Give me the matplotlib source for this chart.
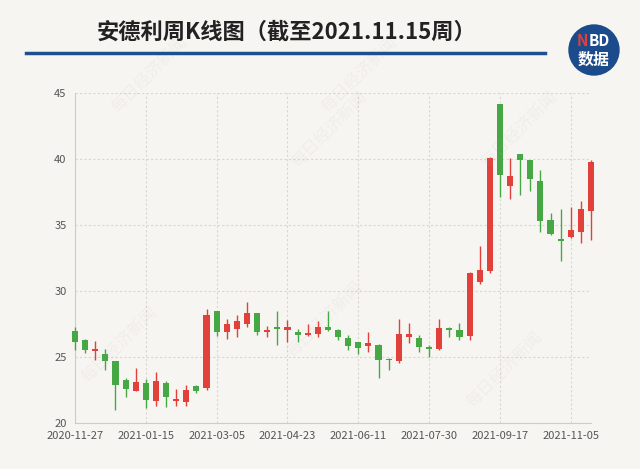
import matplotlib
matplotlib.use("Agg")
import matplotlib.pyplot as plt
from matplotlib.patches import Ellipse
import numpy as np
import pandas as pd

plt.rcParams['font.family'] = ['Noto Sans CJK SC', 'DejaVu Sans']

# weekly candles, 2020-11-27 .. week of 2021-11-15
start_date = "2020-11-27"
opens = [27.0, 26.3, 25.45, 25.2, 24.7, 23.25, 22.45, 23.05, 21.65, 23.05,
         21.7, 21.6, 22.8, 22.65, 28.5, 26.9, 27.1, 27.5, 28.3, 26.9,
         27.3, 27.05, 26.9, 26.7, 26.75, 27.3, 27.05, 26.45, 26.1, 25.8,
         25.9, 24.85, 24.7, 26.55, 26.45, 25.75, 25.6, 27.2, 27.05, 26.6,
         30.65, 31.5, 44.15, 37.95, 40.35, 39.9, 38.35, 35.4, 33.9, 34.1,
         34.5, 36.05]
closes = [26.1, 25.5, 25.6, 24.7, 22.9, 22.55, 23.1, 21.75, 23.2, 21.95,
          21.8, 22.5, 22.4, 28.2, 26.9, 27.5, 27.7, 28.3, 26.9, 27.05,
          27.15, 27.25, 26.7, 26.85, 27.3, 27.05, 26.55, 25.8, 25.7, 26.05,
          24.8, 24.75, 26.75, 26.75, 25.75, 25.6, 27.2, 27.05, 26.55, 31.4,
          31.6, 40.1, 38.8, 38.7, 39.9, 38.45, 35.3, 34.3, 33.8, 34.6,
          36.2, 39.8]
highs = [27.3, 26.4, 26.2, 25.6, 24.7, 23.4, 24.2, 23.3, 23.9, 23.2,
         22.55, 22.9, 22.9, 28.6, 28.5, 27.9, 28.2, 29.2, 28.35, 27.35,
         28.45, 27.8, 27.1, 27.5, 27.75, 28.45, 27.1, 26.65, 26.15, 26.9,
         26.0, 24.9, 27.9, 27.6, 26.65, 25.9, 27.9, 27.25, 27.6, 31.45,
         33.4, 40.15, 44.2, 40.1, 40.35, 39.95, 39.15, 35.9, 36.2, 36.4,
         36.85, 39.9]
lows = [25.5, 25.3, 24.8, 24.0, 21.0, 22.0, 22.4, 21.1, 21.3, 21.2,
        21.3, 21.3, 22.25, 22.5, 26.6, 26.35, 26.5, 27.25, 26.65, 26.5,
        25.9, 26.1, 26.15, 26.6, 26.55, 27.0, 26.3, 25.5, 25.2, 25.4,
        23.4, 24.0, 24.55, 26.05, 25.4, 25.0, 25.55, 26.5, 26.25, 26.3,
        30.5, 31.4, 37.15, 36.95, 37.3, 37.55, 34.5, 34.25, 32.3, 34.05,
        33.65, 33.9]
tick_labels = ["2020-11-27", "2021-01-15", "2021-03-05", "2021-04-23",
               "2021-06-11", "2021-07-30", "2021-09-17", "2021-11-05"]
y_ticks = [20, 25, 30, 35, 40, 45]

title = "安德利周K线图（截至2021.11.15周）"
bg = "#f7f5f2"
red = "#e2403a"
green = "#45a845"

fig = plt.figure(figsize=(6.4, 4.69), dpi=100, facecolor=bg)
ax = fig.add_axes([75 / 640, 1 - 423 / 469, 516 / 640, 330 / 469])
ax.set_facecolor(bg)

o = np.array(opens)
c = np.array(closes)
h = np.array(highs)
l = np.array(lows)
x = np.arange(len(o))
colors = [red if cc >= oo else green for oo, cc in zip(o, c)]

ax.vlines(x, l, h, colors=colors, linewidth=1.0, zorder=3, clip_on=False)
body_low = np.minimum(o, c)
body_h = np.maximum(np.abs(c - o), 0.12)
ax.bar(x, body_h, bottom=body_low, width=0.6, color=colors, zorder=4,
       clip_on=False, linewidth=0)

ax.set_xlim(0, len(o) - 1)
ax.set_ylim(20, 45)

tick_pos = (pd.to_datetime(tick_labels) - pd.Timestamp(start_date)).days / 7
ax.set_xticks(tick_pos)
ax.set_xticklabels(tick_labels)
ax.set_yticks(y_ticks)
ax.tick_params(length=0, labelsize=8, colors="#555555", pad=6)

ax.grid(True, linestyle=(0, (2, 2)), color="#d9d6d2", linewidth=0.8)
ax.set_axisbelow(True)
for s in ["top", "right"]:
    ax.spines[s].set_visible(False)
for s in ["left", "bottom"]:
    ax.spines[s].set_color("#cfccc8")
    ax.spines[s].set_linewidth(0.8)

# watermark
for wx, wy in [(120, 345), (325, 320), (520, 130), (150, 75), (360, 75),
               (505, 370), (330, 130)]:
    fig.text(wx / 640, 1 - wy / 469, "每日经济新闻", rotation=45,
             fontsize=12, color="#b0aaa4", alpha=0.1,
             ha="center", va="center", zorder=0)

# title and rule
fig.text(287 / 640, 1 - 32 / 469, title, fontsize=16, fontweight="bold",
         color="#222222", ha="center", va="center")
fig.add_artist(plt.Line2D([26 / 640, 545 / 640], [1 - 53 / 469, 1 - 53 / 469],
                          color="#1f4f8f", linewidth=2.5))

# NBD badge
fig.add_artist(Ellipse((594 / 640, 1 - 50 / 469), 50 / 640, 50 / 469,
                       color="#1c4b8c", zorder=5))
fig.text(582 / 640, 1 - 41 / 469, "N", fontsize=11, fontweight="bold",
         style="italic", color="#e2403a", ha="center", va="center", zorder=6)
fig.text(599 / 640, 1 - 41 / 469, "BD", fontsize=11, fontweight="bold",
         style="italic", color="white", ha="center", va="center", zorder=6)
fig.text(594 / 640, 1 - 60 / 469, "数据", fontsize=11.5, fontweight="bold",
         color="white", ha="center", va="center", zorder=6)

fig.savefig("out.png", dpi=100, facecolor=bg)
